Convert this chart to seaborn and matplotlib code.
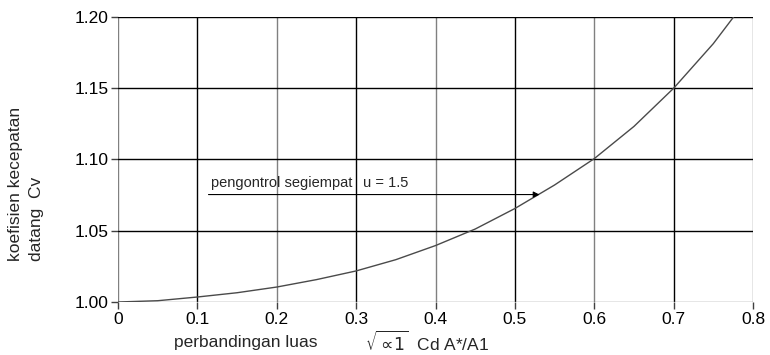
import matplotlib
matplotlib.use("Agg")
import matplotlib.pyplot as plt
import seaborn as sns
import pandas as pd

# Ratio sqrt(alpha1)*Cd*A*/A1 and approach-velocity coefficient Cv
ratio = [0.0, 0.05, 0.1, 0.15, 0.2, 0.25, 0.3, 0.35, 0.4, 0.45, 0.5, 0.55, 0.6, 0.65, 0.7, 0.75, 0.7755]
cv = [1.0000, 1.0009, 1.0035, 1.0065, 1.0105, 1.0157, 1.0218, 1.0297, 1.0396, 1.0512, 1.0656,
      1.0821, 1.1006, 1.1232, 1.1500, 1.1813, 1.2000]

x_ticks = [0, 0.1, 0.2, 0.3, 0.4, 0.5, 0.6, 0.7, 0.8]
x_labels = ["0", "0.1", "0.2", "0.3", "0.4", "0.5", "0.6", "0.7", "0.8"]
y_ticks = [1.00, 1.05, 1.10, 1.15, 1.20]
y_labels = ["1.00", "1.05", "1.10", "1.15", "1.20"]

label_text = "pengontrol segiempat"
u_text = "u = 1.5"
arrow_y = 1.0754
arrow_x0, arrow_x1 = 0.114, 0.531

sns.set_theme(style="white")
plt.rcParams["font.family"] = ["Liberation Sans", "DejaVu Sans"]
plt.rcParams["mathtext.fontset"] = "dejavusans"

W, H = 770, 355
fig = plt.figure(figsize=(W / 100, H / 100), dpi=100)
ax = fig.add_axes([118 / W, 1 - 302 / H, 635 / W, 285 / H])

df = pd.DataFrame({"ratio": ratio, "cv": cv})

# grid: alternating grey / black verticals, black horizontals
for i, xv in enumerate(x_ticks):
    ax.axvline(xv, color="#808080" if i % 2 == 0 else "black", lw=1.0, zorder=1)
for i, yv in enumerate(y_ticks):
    ax.axhline(yv, color="#808080" if i == 0 else "black", lw=1.0, zorder=1)

sns.lineplot(data=df, x="ratio", y="cv", ax=ax, color="#4a4a4a", lw=1.0, zorder=3,
             solid_joinstyle="round", solid_capstyle="round")

for s in ax.spines.values():
    s.set_visible(False)

ax.set_xlim(0, 0.8)
ax.set_ylim(1.0, 1.2)
ax.set_xticks(x_ticks)
ax.set_xticklabels(x_labels)
ax.set_yticks(y_ticks)
ax.set_yticklabels(y_labels)
ax.tick_params(axis="both", which="major", direction="out", length=5, width=1.0,
               color="#404040", labelsize=12.5, labelcolor="black", pad=2,
               bottom=True, left=True)
ax.set_xlabel("")
ax.set_ylabel("")

# curve label with arrow
ax.annotate("", xy=(arrow_x1, arrow_y), xytext=(arrow_x0, arrow_y),
            arrowprops=dict(arrowstyle="-|>", lw=0.8, color="black",
                            mutation_scale=9, shrinkA=0, shrinkB=0), zorder=4)
ax.text(0.1175, 1.0832, label_text, fontsize=10.5, va="center", ha="left", zorder=4)
ax.text(0.309, 1.0832, u_text, fontsize=10.5, va="center", ha="left", zorder=4)

# axis titles
fig.text(16 / W, 1 - 261 / H, "koefisien kecepatan", rotation=90,
         ha="center", va="bottom", fontsize=12.5)
fig.text(36 / W, 1 - 261 / H, "datang  Cv", rotation=90,
         ha="center", va="bottom", fontsize=12.5)
fig.text(246 / W, 1 - 343 / H, "perbandingan luas", ha="center", va="center", fontsize=12.5)
fig.text(365 / W, 1 - 342 / H, r"$\sqrt{\propto\!1}$  Cd A*/A1", ha="left",
         va="center", fontsize=12.5)

fig.savefig("out.png", dpi=100)
